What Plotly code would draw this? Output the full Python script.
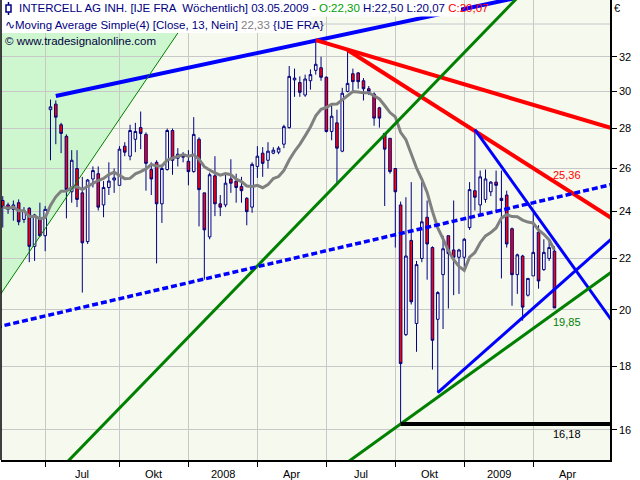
import numpy as np
import pandas as pd
import plotly.graph_objects as go

# ---------------- data (weekly bars, dated Sunday) ----------------
weeks = pd.date_range("2007-05-06", periods=105, freq="W-SUN")

opens = [24.5, 24.3, 24.1, 24.4, 23.65, 24.15, 22.5, 23.7, 22.95, 29.0,
         29.3, 28.2, 27.6, 24.9, 26.0, 24.85, 22.7, 25.5, 25.75, 24.3,
         25.1, 25.45, 25.2, 27.1, 26.6, 27.45, 28.05, 27.7, 25.95, 26.3,
         24.35, 25.95, 27.9, 26.5, 26.65, 26.35, 25.85, 27.45, 24.85, 22.9,
         25.65, 24.35, 24.3, 25.5, 25.4, 25.15, 24.6, 24.2, 26.1, 26.75,
         26.4, 26.75, 26.8, 27.2, 28.05, 30.65, 30.5, 29.8, 30.6, 31.2,
         31.35, 30.8, 27.85, 28.3, 26.85, 30.0, 31.0, 31.05, 30.6, 30.15,
         29.85, 29.1, 27.75, 27.5, 26.0, 24.3, 19.1, 22.75, 19.5, 22.0,
         23.75, 22.45, 19.65, 21.35, 22.95, 22.35, 22.05, 22.05, 23.3, 24.95,
         24.3, 24.55, 24.9, 25.35, 24.6, 24.75, 23.25, 21.35, 22.1, 20.55,
         21.3, 23.1, 21.55, 22.0, 22.30]
highs = [24.7, 24.4, 24.5, 24.55, 24.2, 24.2, 23.9, 24.4, 24.25, 29.55,
         29.5, 28.3, 27.7, 26.9, 26.9, 25.6, 25.5, 26.1, 26.1, 25.4,
         26.3, 26.0, 27.1, 27.3, 28.2, 28.3, 28.9, 27.8, 26.3, 26.4,
         26.1, 28.0, 28.0, 27.0, 26.8, 26.9, 28.6, 27.55, 24.85, 25.8,
         26.6, 24.75, 25.7, 26.45, 25.75, 25.6, 24.65, 26.3, 27.1, 27.05,
         27.3, 27.05, 27.1, 28.2, 31.45, 31.3, 30.85, 30.95, 31.25, 33.0,
         32.0, 30.85, 29.25, 29.0, 30.2, 32.4, 31.3, 31.1, 30.75, 30.3,
         29.95, 29.15, 27.75, 27.5, 26.0, 24.45, 24.65, 25.35, 21.9, 25.35,
         24.5, 22.5, 20.7, 22.95, 22.95, 24.5, 22.4, 22.85, 25.35, 27.95,
         25.9, 25.95, 25.4, 25.9, 25.9, 24.95, 23.3, 22.2, 22.15, 21.2,
         23.95, 23.4, 22.8, 22.8, 22.50]
lows = [23.3, 23.9, 23.6, 23.4, 23.5, 21.85, 21.9, 22.9, 22.3, 26.4,
        27.2, 26.75, 23.7, 24.4, 24.2, 20.65, 22.6, 25.1, 24.05, 23.75,
        24.75, 24.85, 25.2, 26.6, 26.4, 26.8, 26.95, 24.95, 24.75, 21.8,
        23.5, 25.9, 25.7, 26.1, 26.3, 25.2, 25.8, 23.35, 21.15, 22.8,
        23.8, 23.8, 24.2, 24.85, 24.4, 24.4, 23.4, 23.95, 25.55, 25.6,
        26.0, 26.7, 26.7, 27.0, 28.0, 29.7, 29.7, 29.7, 30.1, 30.95,
        30.6, 27.8, 27.4, 25.3, 26.8, 29.95, 30.0, 30.15, 29.5, 29.8,
        28.15, 28.05, 24.25, 25.75, 22.45, 16.18, 19.05, 20.2, 18.5, 21.85,
        21.15, 17.9, 17.15, 19.3, 20.05, 20.55, 20.6, 21.55, 23.2, 24.05,
        23.8, 24.4, 24.7, 24.05, 21.2, 22.45, 20.15, 20.6, 19.6, 20.5,
        21.3, 20.8, 21.5, 21.9, 20.07]
closes = [24.2, 24.1, 24.3, 23.55, 24.05, 22.5, 23.85, 22.95, 24.1, 29.15,
          28.6, 27.75, 25.0, 26.4, 24.55, 22.65, 25.45, 25.9, 24.2, 25.1,
          25.4, 25.55, 26.95, 26.8, 27.9, 27.85, 27.75, 26.25, 25.5, 24.35,
          26.0, 27.9, 26.4, 26.7, 26.55, 25.85, 27.7, 25.0, 23.2, 25.7,
          24.35, 24.2, 25.3, 25.3, 25.1, 24.95, 24.0, 26.2, 26.6, 26.25,
          26.85, 26.9, 27.0, 28.1, 30.85, 30.75, 29.95, 30.7, 30.95, 31.55,
          30.8, 27.85, 28.65, 27.0, 29.9, 30.45, 30.55, 30.55, 30.15, 30.0,
          28.55, 28.55, 26.95, 25.85, 24.9, 18.1, 22.1, 20.3, 21.75, 23.55,
          22.6, 18.9, 20.65, 22.4, 22.2, 22.05, 22.35, 22.8, 25.0, 24.65,
          25.6, 25.5, 25.35, 25.2, 24.5, 22.6, 21.35, 22.15, 20.1, 21.2,
          22.25, 21.1, 22.25, 22.45, 20.07]

# trendlines: anchor points (bar index, price)
trend_i1 = [10, 59, 65, 89, 82, 12.5, 75, 14.2, 53.5]
trend_p1 = [29.75, 33.0, 32.4, 27.95, 17.15, 15.13, 16.18, 25.45, 21.94]
trend_i2 = [54.2, 114.46, 114.46, 114.46, 114.46, 87.1, 114.46, 32.1, 114.46]
trend_p2 = [32.64, 28.05, 23.76, 19.7, 22.76, 32.28, 21.41, 33.0, 25.22]
trend_left = [False, False, False, False, False, True, True, True, True]
trend_color = ["#0000ff", "#ff0000", "#ff0000", "#0000ff", "#0000ff",
               "#008000", "#008000", "#008000", "#0000ff"]
trend_width = [4, 4, 4, 3, 3, 3, 3, 1, 3.5]
trend_dash = ["solid"] * 8 + ["6px,3px"]

support_start = 75
support_price = 16.18

label_red, label_green, label_black = "25,36", "19,85", "16,18"
quarter_labels = ["Jul", "Okt", "2008", "Apr", "Jul", "Okt", "2009", "Apr"]
price_ticks = [16, 18, 20, 22, 24, 26, 28, 30, 32]

# ---------------- geometry ----------------
W, H = 640, 480
ML, MR, MT, MB = 1, 30, 0, 20
PW, PH = W - ML - MR, H - MT - MB
x_lo, x_hi = -0.33, 114.47
y_lo, y_hi = 15.133, 35.55


def px(x):
    return (x - ML) / PW


def py(y):
    return 1 - (y - MT) / PH


idx = np.arange(len(weeks))
ma13 = pd.Series(closes).rolling(13, min_periods=1).mean()

fig = go.Figure()

# green shaded zone left of the thin green line
gi = 7
slope = (np.log(trend_p2[gi]) - np.log(trend_p1[gi])) / (trend_i2[gi] - trend_i1[gi])
p_left = np.exp(np.log(trend_p1[gi]) + slope * (x_lo - trend_i1[gi]))
i_top = trend_i1[gi] + (np.log(y_hi) - np.log(trend_p1[gi])) / slope
fig.add_shape(type="path", layer="below", line=dict(width=0), fillcolor="#cff7cf",
              path=f"M {x_lo},{p_left} L {x_lo},{y_hi} L {i_top},{y_hi} Z")
fig.add_shape(type="line", layer="below", x0=x_lo, x1=x_hi, y0=34, y1=34,
              line=dict(color="#c8c8c8", width=1))

fig.add_trace(go.Candlestick(
    x=idx, open=opens, high=highs, low=lows, close=closes,
    increasing=dict(line=dict(color="#000080", width=1), fillcolor="#ffffff"),
    decreasing=dict(line=dict(color="#000080", width=1), fillcolor="#ff0000"),
    whiskerwidth=0, hoverinfo="skip", showlegend=False))

fig.add_trace(go.Scatter(x=idx, y=ma13, mode="lines",
                         line=dict(color="#808080", width=3),
                         hoverinfo="skip", showlegend=False))

for k in range(len(trend_i1)):
    s = (np.log(trend_p2[k]) - np.log(trend_p1[k])) / (trend_i2[k] - trend_i1[k])
    xa = x_lo - 1 if trend_left[k] else trend_i1[k]
    xb = x_hi + 1
    ya = np.exp(np.log(trend_p1[k]) + s * (xa - trend_i1[k]))
    yb = np.exp(np.log(trend_p1[k]) + s * (xb - trend_i1[k]))
    fig.add_trace(go.Scatter(x=[xa, xb], y=[ya, yb], mode="lines",
                             line=dict(color=trend_color[k], width=trend_width[k],
                                       dash=trend_dash[k]),
                             hoverinfo="skip", showlegend=False))

fig.add_trace(go.Scatter(x=[support_start, x_hi + 1], y=[support_price, support_price],
                         mode="lines", line=dict(color="#000000", width=4),
                         hoverinfo="skip", showlegend=False))

# quarter boundaries
months = weeks.month
qb = [i for i in range(1, len(weeks))
      if months[i] in (1, 4, 7, 10) and months[i - 1] != months[i]]
qmid = [(qb[j] + qb[j + 1]) / 2 if j + 1 < len(qb) else qb[j] + 6.5 for j in range(len(qb))]

font = "Liberation Sans, Arial, sans-serif"
ann = []
for j, lab in enumerate(quarter_labels):
    ann.append(dict(x=qmid[j], y=py(473.5), xref="x", yref="paper", text=lab,
                    showarrow=False, font=dict(family=font, size=11, color="#000000"),
                    xanchor="center", yanchor="middle"))

last = len(weeks) - 1
s_red = (np.log(trend_p2[2]) - np.log(trend_p1[2])) / (trend_i2[2] - trend_i1[2])
v_red = np.exp(np.log(trend_p1[2]) + s_red * (last - trend_i1[2]))
s_gr = (np.log(trend_p2[6]) - np.log(trend_p1[6])) / (trend_i2[6] - trend_i1[6])
v_gr = np.exp(np.log(trend_p1[6]) + s_gr * (last - trend_i1[6]))
ann.append(dict(x=last, y=np.log10(v_red), text=label_red, showarrow=False,
                xanchor="left", yanchor="bottom", xshift=-3, yshift=-1,
                font=dict(family=font, size=11, color="#ff0000")))
ann.append(dict(x=last, y=np.log10(v_gr), text=label_green, showarrow=False,
                xanchor="left", yanchor="top", xshift=-3, yshift=-1,
                font=dict(family=font, size=11, color="#008000")))
ann.append(dict(x=last, y=np.log10(support_price), text=label_black, showarrow=False,
                xanchor="left", yanchor="top", xshift=-3, yshift=-2,
                font=dict(family=font, size=11, color="#000000")))
ann.append(dict(x=px(616.5), y=py(8.5), xref="paper", yref="paper", text="€",
                showarrow=False, xanchor="center", yanchor="middle",
                font=dict(family=font, size=11, color="#000000")))

# header texts
navy = "#000080"
hdr1 = ("INTERCELL AG INH. [IJE FRA  Wöchentlich] 03.05.2009 - "
        "<span style='color:#00a000'>O:22,30</span> H:22,50 L:20,07 "
        "<span style='color:#ff0000'>C:20,07</span>")
hdr2 = ("∿Moving Average Simple(4) [Close, 13, Nein] "
        "<span style='color:#808080'>22,33</span> {IJE FRA}")
hdr3 = "© www.tradesignalonline.com"
shapes_top = [
    dict(type="rect", xref="paper", yref="paper", x0=px(-2), x1=px(461), y0=py(16.5), y1=py(-2),
         fillcolor="#ffffff", line=dict(width=0), layer="above"),
    dict(type="rect", xref="paper", yref="paper", x0=px(-2), x1=px(311), y0=py(33), y1=py(16),
         fillcolor="#ffffff", line=dict(width=0), layer="above"),
    dict(type="line", xref="paper", yref="paper", x0=px(8.5), x1=px(8.5), y0=py(15), y1=py(2),
         line=dict(color=navy, width=1.5), layer="above"),
    dict(type="rect", xref="paper", yref="paper", x0=px(6), x1=px(11), y0=py(12), y1=py(5),
         fillcolor="#ffffff", line=dict(color=navy, width=1.5), layer="above"),
    # frame
    dict(type="line", xref="paper", yref="paper", x0=0, x1=0, y0=0, y1=1,
         line=dict(color="#000000", width=1.5), layer="above"),
]
for s in shapes_top:
    fig.add_shape(**s)
ann.append(dict(x=px(17), y=py(8.5), xref="paper", yref="paper", text=hdr1,
                showarrow=False, xanchor="left", yanchor="middle",
                font=dict(family=font, size=11.5, color=navy)))
ann.append(dict(x=px(3), y=py(25), xref="paper", yref="paper", text=hdr2,
                showarrow=False, xanchor="left", yanchor="middle",
                font=dict(family=font, size=11.5, color=navy)))
ann.append(dict(x=px(3), y=py(41.5), xref="paper", yref="paper", text=hdr3,
                showarrow=False, xanchor="left", yanchor="middle",
                font=dict(family=font, size=11.5, color="#000040")))

fig.update_layout(
    width=W, height=H,
    margin=dict(l=ML, r=MR, t=MT, b=MB, pad=0),
    paper_bgcolor="#ffffff", plot_bgcolor="#f6f9ee",
    showlegend=False, hovermode=False,
    annotations=ann,
    xaxis=dict(range=[x_lo, x_hi], tickvals=qb, ticktext=[""] * len(qb),
               ticks="outside", ticklen=5, tickcolor="#000000",
               showgrid=True, gridcolor="#c8c8c8", gridwidth=1,
               showline=True, linecolor="#000000", linewidth=1.5,
               zeroline=False, rangeslider=dict(visible=False), fixedrange=True),
    yaxis=dict(type="log", range=[np.log10(y_lo), np.log10(y_hi)], side="right",
               tickvals=price_ticks, ticktext=[str(v) for v in price_ticks],
               ticks="outside", ticklen=5, tickcolor="#000000",
               tickfont=dict(family=font, size=11, color="#000000"),
               showgrid=True, gridcolor="#c8c8c8", gridwidth=1,
               showline=True, linecolor="#000000", linewidth=1.5,
               zeroline=False, fixedrange=True),
)

fig.write_html("out.html", config={"displayModeBar": False},
               post_script="document.body.style.margin='0';document.body.style.overflow='hidden';")
